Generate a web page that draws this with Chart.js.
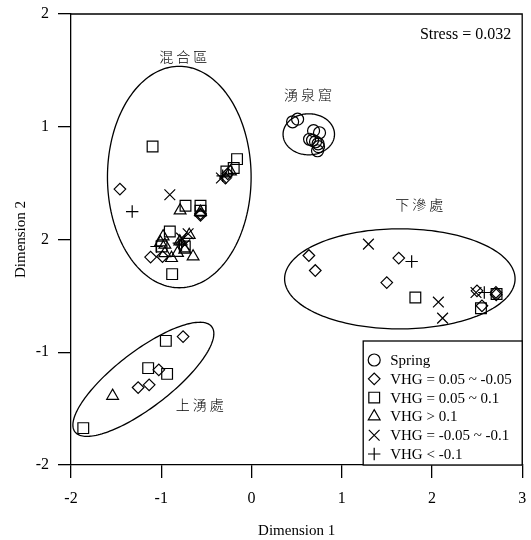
<!DOCTYPE html>
<html>
<head>
<meta charset="utf-8">
<script src="https://cdn.jsdelivr.net/npm/chart.js@4/dist/chart.umd.min.js"></script>
<style>
html,body{margin:0;padding:0;background:#fff;}
#wrap{width:531px;height:540px;}
</style>
</head>
<body>
<div id="wrap"><canvas id="c" width="531" height="540"></canvas></div>
<script>
// ---- data ----
const categories = ['Spring', 'VHG = 0.05 ~ -0.05', 'VHG = 0.05 ~ 0.1', 'VHG > 0.1', 'VHG = -0.05 ~ -0.1', 'VHG < -0.1'];

const springX = [0.456, 0.511, 0.688, 0.754, 0.644, 0.677, 0.710, 0.738, 0.743, 0.732];
const springY = [1.044, 1.067, 0.965, 0.947, 0.889, 0.880, 0.867, 0.849, 0.823, 0.787];

const vhgMidX = [-1.458, -0.565, -0.565, -0.289, -0.263, -1.118, -0.986, 0.636, 0.707, 1.632, 1.499, 2.499, 2.709, 2.712, 2.554, -0.758, -1.027, -1.134, -1.256];
const vhgMidY = [0.447, 0.228, 0.215, 0.545, 0.583, -0.156, -0.151, -0.142, -0.275, -0.165, -0.382, -0.455, -0.470, -0.490, -0.588, -0.861, -1.156, -1.289, -1.313];

const vhgPosX = [-1.096, -0.731, -0.565, -0.565, -0.160, -0.197, -0.278, -0.905, -0.997, -0.739, -0.879, 1.816, 2.716, 2.543, -0.949, -1.145, -0.935, -1.864];
const vhgPosY = [0.825, 0.299, 0.299, 0.255, 0.713, 0.634, 0.603, 0.071, -0.062, -0.062, -0.307, -0.515, -0.484, -0.609, -0.899, -1.141, -1.192, -1.673];

const vhgHighX = [-0.791, -0.565, -0.233, -0.979, -1.008, -0.960, -0.960, -0.886, -0.794, -0.739, -0.647, -0.690, -0.820, -1.539];
const vhgHighY = [0.257, 0.245, 0.603, 0.027, -0.027, -0.047, -0.121, -0.165, -0.018, -0.091, -0.151, 0.040, -0.120, -1.387];

const vhgNegX = [-0.905, -0.333, -0.702, -0.775, -0.739, 1.296, 2.071, 2.118, 2.488];
const vhgNegY = [0.397, 0.545, 0.051, 0.012, -0.047, -0.041, -0.555, -0.697, -0.470];

const vhgLowX = [-1.322, -0.319, -1.052, -0.805, -0.775, 1.775, 2.580];
const vhgLowY = [0.248, 0.565, -0.062, -0.032, -0.047, -0.195, -0.470];

const xTickValues = [-2, -1, 0, 1, 2, 3];
const yTickValues = [2, 1, 0, -1, -2];
const yTickLabels = ['2', '1', '2', '-1', '-2'];

// group ellipses (data units): centre, semi-axis vector a, semi-axis vector b
const groupNames = ['混合區', '湧泉窟', '下滲處', '上湧處'];
const groupCx = [-0.800, 0.635, 1.644, -1.198];
const groupCy = [0.554, 0.933, -0.349, -1.240];
const groupAx = [0.796, 0.285, 1.277, 0.758];
const groupAy = [0, 0, 0, 0.466];
const groupBx = [0, 0, 0, 0.188];
const groupBy = [0.982, 0.182, 0.444, -0.197];
const groupLabelX = [-0.757, 0.625, 1.860, -0.573];
const groupLabelY = [1.624, 1.284, 0.310, -1.466];

const stressText = 'Stress = 0.032';

// ---- build ----
function pts(xs, ys) { return xs.map((x, i) => ({ x: x, y: ys[i] })); }
const seriesX = [springX, vhgMidX, vhgPosX, vhgHighX, vhgNegX, vhgLowX];
const seriesY = [springY, vhgMidY, vhgPosY, vhgHighY, vhgNegY, vhgLowY];
const styles = ['circle', 'rectRot', 'rect', 'triangle', 'crossRot', 'cross'];
const radii = [6.0, 5.8, 7.6, 6.8, 7.6, 6.2];

const datasets = categories.map((name, i) => ({
  label: name,
  data: pts(seriesX[i], seriesY[i]),
  pointStyle: styles[i],
  pointRadius: radii[i],
  pointHoverRadius: radii[i],
  pointBorderWidth: 1.2,
  pointHoverBorderWidth: 1.2,
  borderColor: '#000',
  backgroundColor: 'rgba(0,0,0,0)',
  pointBackgroundColor: 'rgba(0,0,0,0)',
  showLine: false,
  clip: false
}));

const SERIF = '"Liberation Serif", "Times New Roman", serif';
const CJK = '"Noto Sans CJK TC", "Noto Sans CJK SC", sans-serif';

const decor = {
  id: 'decor',
  beforeDatasetsDraw(chart) {
    const ctx = chart.ctx, xs = chart.scales.x, ys = chart.scales.y, ca = chart.chartArea;
    ctx.save();
    // frame top & right
    ctx.strokeStyle = '#000';
    ctx.lineWidth = 1.3;
    ctx.beginPath();
    ctx.moveTo(ca.left, ca.top); ctx.lineTo(ca.right, ca.top); ctx.lineTo(ca.right, ca.bottom);
    ctx.stroke();
    // ellipses
    ctx.lineWidth = 1.3;
    for (let g = 0; g < groupNames.length; g++) {
      ctx.beginPath();
      const n = 180;
      for (let k = 0; k <= n; k++) {
        const t = k / n * Math.PI * 2;
        const dx = groupCx[g] + groupAx[g] * Math.cos(t) + groupBx[g] * Math.sin(t);
        const dy = groupCy[g] + groupAy[g] * Math.cos(t) + groupBy[g] * Math.sin(t);
        const px = xs.getPixelForValue(dx), py = ys.getPixelForValue(dy);
        if (k === 0) ctx.moveTo(px, py); else ctx.lineTo(px, py);
      }
      ctx.closePath();
      ctx.stroke();
    }
    // group labels (spaced characters)
    ctx.fillStyle = '#000';
    ctx.font = '300 14px ' + CJK;
    ctx.textAlign = 'center';
    ctx.textBaseline = 'middle';
    for (let g = 0; g < groupNames.length; g++) {
      const chars = Array.from(groupNames[g]);
      const step = 17;
      const cx = xs.getPixelForValue(groupLabelX[g]);
      const cy = ys.getPixelForValue(groupLabelY[g]);
      chars.forEach((ch, k) => {
        ctx.fillText(ch, cx + (k - (chars.length - 1) / 2) * step, cy);
      });
    }
    // stress
    ctx.font = '16px ' + SERIF;
    ctx.textAlign = 'right';
    ctx.textBaseline = 'middle';
    ctx.fillText(stressText, ca.right - 11, ca.top + 21);
    ctx.restore();
  },
  afterDatasetsDraw(chart) {
    const ctx = chart.ctx, ca = chart.chartArea;
    ctx.save();
    const boxL = ca.right - 159, boxT = ca.bottom - 124;
    ctx.fillStyle = '#fff';
    ctx.fillRect(boxL, boxT, ca.right - boxL, ca.bottom - boxT);
    ctx.strokeStyle = '#000';
    ctx.lineWidth = 1.3;
    ctx.strokeRect(boxL, boxT, ca.right - boxL, ca.bottom - boxT);
    ctx.font = '15px ' + SERIF;
    ctx.textAlign = 'left';
    ctx.textBaseline = 'middle';
    ctx.fillStyle = '#000';
    categories.forEach((name, i) => {
      const y = boxT + 19 + i * 18.8;
      ctx.strokeStyle = '#000';
      ctx.fillStyle = 'rgba(0,0,0,0)';
      ctx.lineWidth = 1.2;
      Chart.helpers.drawPoint(ctx, { pointStyle: styles[i], radius: radii[i], rotation: 0, borderWidth: 1.2 }, boxL + 11, y);
      ctx.fillStyle = '#000';
      ctx.fillText(name, boxL + 27, y + 1);
    });
    ctx.restore();
  }
};

new Chart(document.getElementById('c'), {
  type: 'scatter',
  data: { datasets: datasets },
  plugins: [decor],
  options: {
    responsive: false,
    animation: false,
    events: [],
    layout: { padding: { top: 14, right: 8, left: 0, bottom: 0 } },
    plugins: { legend: { display: false }, tooltip: { enabled: false } },
    scales: {
      x: {
        type: 'linear', min: -2, max: 3,
        afterBuildTicks: (s) => { s.ticks = xTickValues.map(v => ({ value: v })); },
        afterFit: (s) => { s.height = 75; s.paddingLeft = 0; s.paddingRight = 0; },
        ticks: { color: '#000', font: { family: SERIF, size: 16 }, padding: 11, callback: (v) => String(v) },
        grid: { display: true, drawOnChartArea: false, tickLength: 13, color: '#000', tickColor: '#000', lineWidth: 1.3 },
        border: { display: true, color: '#000', width: 1.3 },
        title: { display: true, text: 'Dimension 1', color: '#000', font: { family: SERIF, size: 15 }, padding: { top: 0, bottom: 0 } }
      },
      y: {
        type: 'linear', min: -2, max: 2,
        afterBuildTicks: (s) => { s.ticks = yTickValues.map(v => ({ value: v })); },
        afterFit: (s) => { s.width = 71; s.paddingTop = 0; s.paddingBottom = 0; },
        ticks: { color: '#000', font: { family: SERIF, size: 16 }, padding: 9, callback: (v) => yTickLabels[yTickValues.indexOf(v)] },
        grid: { display: true, drawOnChartArea: false, tickLength: 13, color: '#000', tickColor: '#000', lineWidth: 1.3 },
        border: { display: true, color: '#000', width: 1.3 },
        title: { display: true, text: 'Dimension 2', color: '#000', font: { family: SERIF, size: 15 }, padding: { top: 12, bottom: 0 } }
      }
    }
  }
});
</script>
</body>
</html>
